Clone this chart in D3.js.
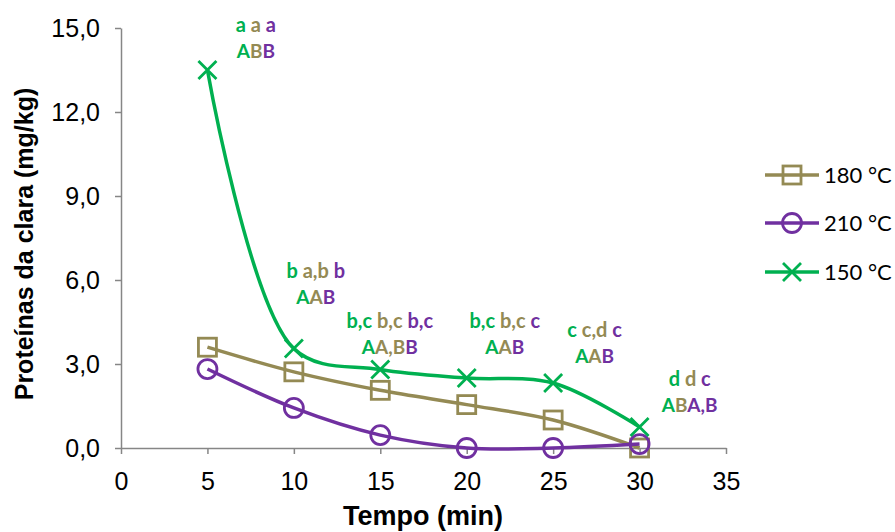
<!DOCTYPE html>
<html>
<head>
<meta charset="utf-8">
<script src="https://cdn.jsdelivr.net/npm/d3@7"></script>
<style>
  body { margin: 0; background: #fff; }
</style>
</head>
<body>
<svg id="chart" width="895" height="532"></svg>
<script>
"use strict";

//Sampling times (min) and measured values (mg/kg) for each temperature
var tempo = [5, 10, 15, 20, 25, 30];
var s180 = [3.6, 2.72, 2.06, 1.55, 1.0, 0.0];
var s210 = [2.82, 1.43, 0.46, 0.0, 0.0, 0.14];
var s150 = [13.5, 3.55, 2.8, 2.5, 2.32, 0.75];

//Significance letters, order: 150, 180, 210
var lowerLetters = [
  ["a", "a", "a"],
  ["b", "a,b", "b"],
  ["b,c", "b,c", "b,c"],
  ["b,c", "b,c", "c"],
  ["c", "c,d", "c"],
  ["d", "d", "c"]
];
var upperLetters = [
  ["A", "B", "B"],
  ["A", "A", "B"],
  ["A", "A,B", "B"],
  ["A", "A", "B"],
  ["A", "A", "B"],
  ["A", "B", "A,B"]
];

var xTicks = [0, 5, 10, 15, 20, 25, 30, 35];
var yTicks = [0, 3, 6, 9, 12, 15];

var colors = {c180: "#948A54", c210: "#7030A0", c150: "#00B050"};

var svg = d3.select("#chart"),
    margin = {top: 28, right: 169, bottom: 84, left: 121},
    width = +svg.attr("width") - margin.left - margin.right,
    height = +svg.attr("height") - margin.top - margin.bottom,
    g = svg.append("g").attr("transform", "translate(" + margin.left + "," + margin.top + ")");

var x = d3.scaleLinear().domain([0, 35]).range([0, width]);
var y = d3.scaleLinear().domain([0, 15]).range([height, 0]);

var fmt = function(d) { return d3.format(".1f")(d).replace(".", ","); };

//Axes
var yAxis = g.append("g")
    .call(d3.axisLeft(y).tickValues(yTicks).tickFormat(fmt).tickSize(6).tickSizeOuter(0));
var xAxis = g.append("g")
    .attr("transform", "translate(0," + height + ")")
    .call(d3.axisBottom(x).tickValues(xTicks).tickFormat(d3.format("d")).tickSize(6).tickSizeOuter(0));

[yAxis, xAxis].forEach(function(a) {
  a.selectAll("path, line").attr("stroke", "#868686").attr("stroke-width", 1.5);
  a.selectAll("text")
    .attr("font-family", "'Liberation Sans', Arial, sans-serif")
    .attr("font-size", "25px")
    .attr("fill", "#000");
});
yAxis.selectAll("text").attr("x", -21);
xAxis.selectAll("text").attr("y", 24);

//Axis titles
svg.append("text")
    .attr("transform", "translate(33,244) rotate(-90)")
    .attr("text-anchor", "middle")
    .attr("font-family", "'Liberation Sans', Arial, sans-serif")
    .attr("font-weight", "bold")
    .attr("font-size", "25px")
    .text("Proteínas da clara (mg/kg)");

svg.append("text")
    .attr("x", 423)
    .attr("y", 525)
    .attr("text-anchor", "middle")
    .attr("font-family", "'Liberation Sans', Arial, sans-serif")
    .attr("font-weight", "bold")
    .attr("font-size", "27px")
    .text("Tempo (min)");

//Series
var series = [
  {name: "180 °C", values: s180, color: colors.c180, marker: "square"},
  {name: "210 °C", values: s210, color: colors.c210, marker: "circle"},
  {name: "150 °C", values: s150, color: colors.c150, marker: "cross"}
];

var line = d3.line()
    .x(function(d) { return x(d[0]); })
    .y(function(d) { return y(d[1]); })
    .curve(d3.curveCatmullRom.alpha(0.5));

function drawMarker(sel, type, color) {
  if (type == "square") {
    sel.append("rect")
      .attr("x", -9).attr("y", -9).attr("width", 18).attr("height", 18)
      .attr("fill", "none").attr("stroke", color).attr("stroke-width", 2.8);
  } else if (type == "circle") {
    sel.append("circle")
      .attr("r", 9.5)
      .attr("fill", "none").attr("stroke", color).attr("stroke-width", 2.8);
  } else {
    sel.append("path")
      .attr("d", "M-9,-9L9,9M-9,9L9,-9")
      .attr("fill", "none").attr("stroke", color).attr("stroke-width", 2.8);
  }
}

series.forEach(function(s) {
  var pts = tempo.map(function(t, i) { return [t, s.values[i]]; });
  g.append("path")
    .datum(pts)
    .attr("d", line)
    .attr("fill", "none")
    .attr("stroke", s.color)
    .attr("stroke-width", 3.5);
  g.append("g").selectAll("g")
    .data(pts)
    .enter().append("g")
      .attr("transform", function(d) { return "translate(" + x(d[0]) + "," + y(d[1]) + ")"; })
      .each(function() { drawMarker(d3.select(this), s.marker, s.color); });
});

//Letter annotations (anchor in data units: time, value)
var labelX = [7.8, 11.27, 15.55, 22.2, 27.4, 32.9];
var labelY = [14.84, 6.06, 4.3, 4.3, 3.98, 2.2];
var letterColors = [colors.c150, colors.c180, colors.c210];

tempo.forEach(function(t, i) {
  var row1 = g.append("text")
    .attr("x", x(labelX[i]))
    .attr("y", y(labelY[i]))
    .attr("text-anchor", "middle")
    .attr("font-family", "Lato, 'Open Sans', sans-serif")
    .attr("font-weight", "bold")
    .attr("font-size", "20px");
  lowerLetters[i].forEach(function(l, k) {
    row1.append("tspan").attr("fill", letterColors[k]).text((k > 0 ? " " : "") + l);
  });
  var row2 = g.append("text")
    .attr("x", x(labelX[i]))
    .attr("y", y(labelY[i]) + 26)
    .attr("text-anchor", "middle")
    .attr("font-family", "Lato, 'Open Sans', sans-serif")
    .attr("font-weight", "bold")
    .attr("font-size", "19px");
  upperLetters[i].forEach(function(l, k) {
    row2.append("tspan").attr("fill", letterColors[k]).text(l);
  });
});

//Legend
var legend = svg.append("g");
var legendY = [175, 223, 272];
series.forEach(function(s, i) {
  var lg = legend.append("g").attr("transform", "translate(0," + legendY[i] + ")");
  lg.append("line")
    .attr("x1", 765).attr("x2", 819)
    .attr("stroke", s.color).attr("stroke-width", 3.5);
  var m = lg.append("g").attr("transform", "translate(792,0)");
  drawMarker(m, s.marker, s.color);
  lg.append("text")
    .attr("x", 824)
    .attr("y", 0)
    .attr("dy", "0.36em")
    .attr("font-family", "Lato, 'Open Sans', sans-serif")
    .attr("font-size", "22px")
    .text(s.name);
});
</script>
</body>
</html>
